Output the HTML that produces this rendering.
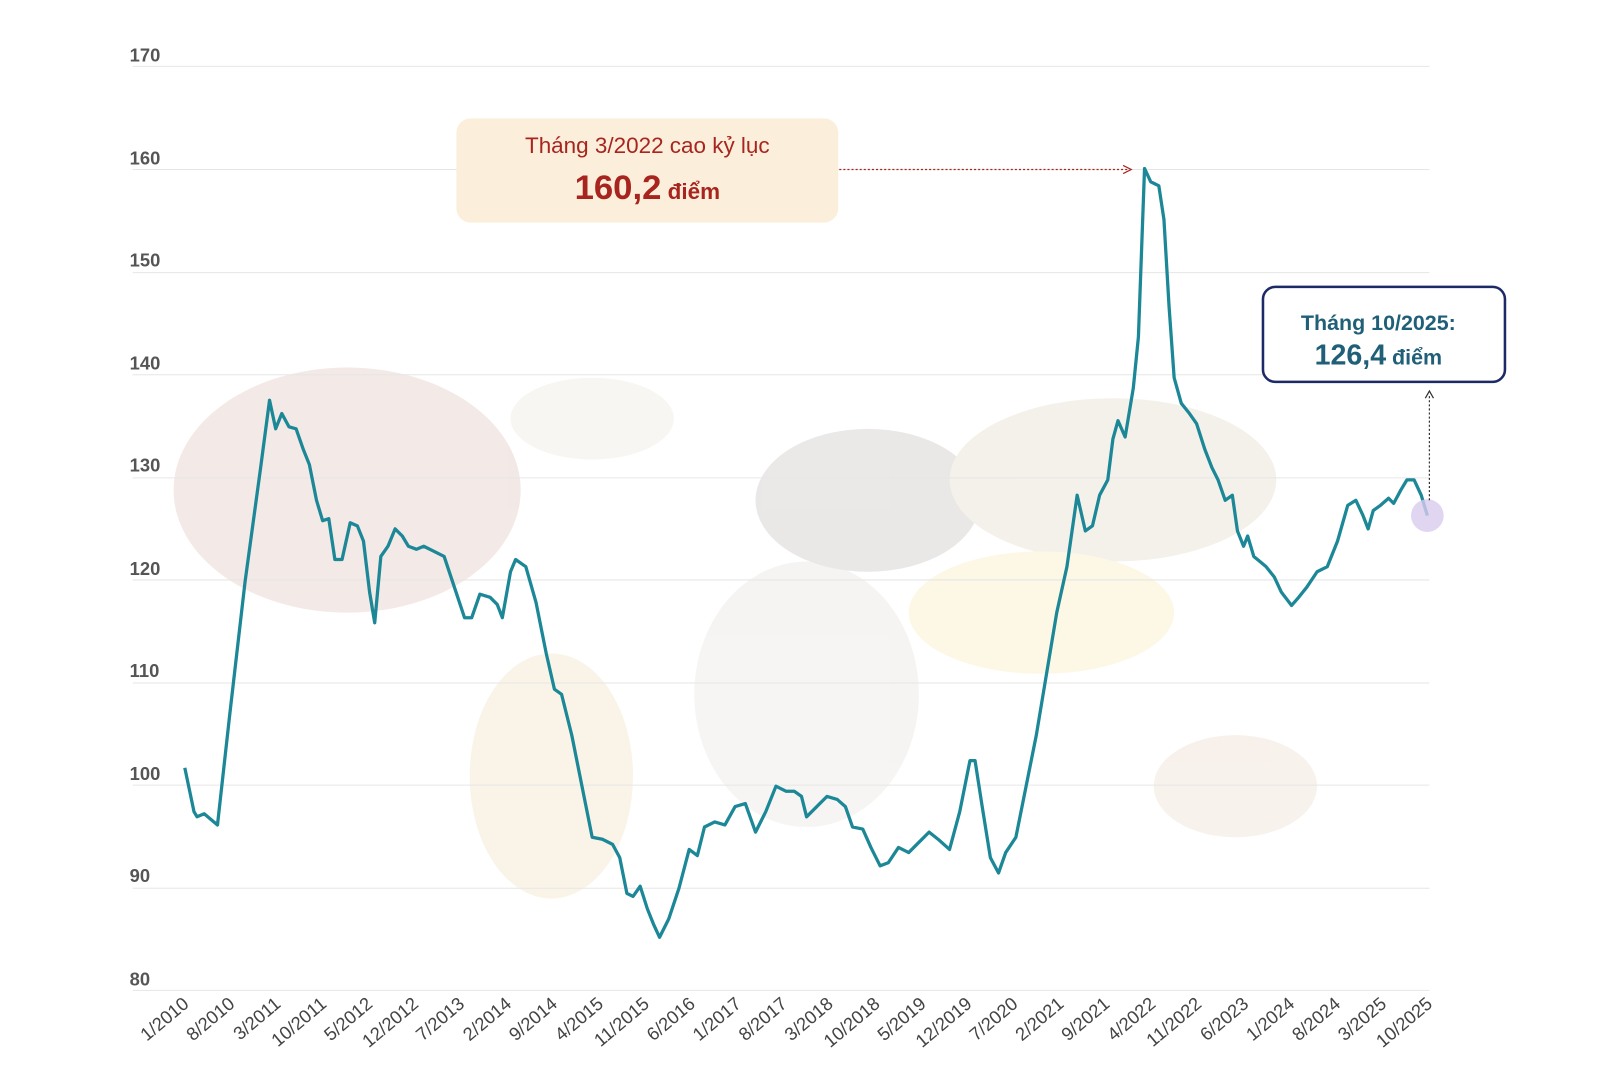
<!DOCTYPE html>
<html><head><meta charset="utf-8"><style>
html,body{margin:0;padding:0;background:#fff;}
svg{display:block;font-family:"Liberation Sans",sans-serif;}
</style></head><body>
<svg width="1600" height="1067" viewBox="0 0 1600 1067" xmlns="http://www.w3.org/2000/svg">
<g transform="scale(1.021)">
<g opacity="0.12">
<ellipse cx="340" cy="480" rx="170" ry="120" fill="#9c4a30"/>
<ellipse cx="540" cy="760" rx="80" ry="120" fill="#d9a441"/>
<ellipse cx="580" cy="410" rx="80" ry="40" fill="#c9b89a"/>
<ellipse cx="790" cy="680" rx="110" ry="130" fill="#b8aea0"/>
<ellipse cx="850" cy="490" rx="110" ry="70" fill="#5a4a40"/>
<ellipse cx="1090" cy="470" rx="160" ry="80" fill="#a88a5a"/>
<ellipse cx="1020" cy="600" rx="130" ry="60" fill="#f0c030"/>
<ellipse cx="1210" cy="770" rx="80" ry="50" fill="#c89060"/>
</g>
<g stroke="#e6e6e6" stroke-width="1">
<line x1="130" x2="1400" y1="65" y2="65"/><line x1="130" x2="1400" y1="166" y2="166"/>
<line x1="130" x2="1400" y1="267" y2="267"/><line x1="130" x2="1400" y1="367" y2="367"/>
<line x1="130" x2="1400" y1="468" y2="468"/><line x1="130" x2="1400" y1="568" y2="568"/>
<line x1="130" x2="1400" y1="669" y2="669"/><line x1="130" x2="1400" y1="769" y2="769"/>
<line x1="130" x2="1400" y1="870" y2="870"/><line x1="130" x2="1400" y1="970" y2="970"/>
</g>
<g fill="#555" font-size="18" font-weight="bold">
<text x="127" y="60">170</text><text x="127" y="161">160</text><text x="127" y="261">150</text>
<text x="127" y="362">140</text><text x="127" y="462">130</text><text x="127" y="563">120</text>
<text x="127" y="663">110</text><text x="127" y="764">100</text><text x="127" y="864">90</text>
<text x="127" y="965">80</text>
</g>
<g fill="#444" font-size="18" text-anchor="end">
<g transform="translate(186,985) rotate(-40)"><text>1/2010</text></g>
<g transform="translate(231,985) rotate(-40)"><text>8/2010</text></g>
<g transform="translate(276,985) rotate(-40)"><text>3/2011</text></g>
<g transform="translate(321,985) rotate(-40)"><text>10/2011</text></g>
<g transform="translate(366,985) rotate(-40)"><text>5/2012</text></g>
<g transform="translate(411,985) rotate(-40)"><text>12/2012</text></g>
<g transform="translate(456,985) rotate(-40)"><text>7/2013</text></g>
<g transform="translate(502,985) rotate(-40)"><text>2/2014</text></g>
<g transform="translate(547,985) rotate(-40)"><text>9/2014</text></g>
<g transform="translate(592,985) rotate(-40)"><text>4/2015</text></g>
<g transform="translate(637,985) rotate(-40)"><text>11/2015</text></g>
<g transform="translate(682,985) rotate(-40)"><text>6/2016</text></g>
<g transform="translate(727,985) rotate(-40)"><text>1/2017</text></g>
<g transform="translate(772,985) rotate(-40)"><text>8/2017</text></g>
<g transform="translate(817,985) rotate(-40)"><text>3/2018</text></g>
<g transform="translate(863,985) rotate(-40)"><text>10/2018</text></g>
<g transform="translate(908,985) rotate(-40)"><text>5/2019</text></g>
<g transform="translate(953,985) rotate(-40)"><text>12/2019</text></g>
<g transform="translate(998,985) rotate(-40)"><text>7/2020</text></g>
<g transform="translate(1043,985) rotate(-40)"><text>2/2021</text></g>
<g transform="translate(1088,985) rotate(-40)"><text>9/2021</text></g>
<g transform="translate(1133,985) rotate(-40)"><text>4/2022</text></g>
<g transform="translate(1178,985) rotate(-40)"><text>11/2022</text></g>
<g transform="translate(1224,985) rotate(-40)"><text>6/2023</text></g>
<g transform="translate(1269,985) rotate(-40)"><text>1/2024</text></g>
<g transform="translate(1314,985) rotate(-40)"><text>8/2024</text></g>
<g transform="translate(1359,985) rotate(-40)"><text>3/2025</text></g>
<g transform="translate(1404,985) rotate(-40)"><text>10/2025</text></g>
</g>
<polyline fill="none" stroke="#1b8797" stroke-width="3.2" stroke-linejoin="round" points="
181,752 190,795 193,800 200,797 213,808 225,700 240,570 255,460 264,392 270,420 276,405 283,418 290,420 297,440 303,455 310,490 316,510 322,508 328,548 335,548 343,512 350,515 356,530 362,580 367,610 373,545 380,535 387,518 394,525 400,535 408,538 415,535 425,540 435,545 445,575 455,605 462,605 470,582 480,585 487,592 492,605 500,560 505,548 515,555 525,590 535,640 543,675 550,680 560,720 570,770 580,820 590,822 600,827 607,840 614,875 620,878 627,868 634,890 640,905 646,918 655,900 665,870 675,832 683,838 690,810 700,805 710,808 720,790 730,787 740,815 750,795 760,770 770,775 778,775 785,780 790,800 800,790 810,780 820,783 828,790 835,810 845,812 853,830 862,848 870,845 880,830 890,835 900,825 910,815 920,823 930,832 940,795 950,745 955,745 962,790 970,840 978,855 985,835 995,820 1005,770 1015,720 1025,660 1035,600 1045,555 1055,485 1063,520 1070,515 1077,485 1085,470 1090,430 1095,412 1102,428 1110,380 1115,330 1121,165 1127,178 1135,182 1140,215 1145,300 1150,370 1157,395 1165,405 1172,415 1180,440 1187,458 1193,470 1200,490 1207,485 1212,520 1218,535 1222,525 1228,545 1234,550 1240,555 1248,565 1255,580 1265,593 1272,585 1280,575 1290,560 1300,555 1310,530 1320,495 1328,490 1335,505 1340,518 1345,500 1352,495 1360,488 1365,493 1372,480 1378,470 1385,470 1392,485 1398,505"/>
<rect x="447" y="116" width="374" height="102" rx="14" fill="#fbefdb"/>
<text x="634" y="150" text-anchor="middle" font-size="22" fill="#a8251f">Tháng 3/2022 cao kỷ lục</text>
<text x="634" y="195" text-anchor="middle" fill="#a8251f"><tspan font-size="34" font-weight="bold">160,2</tspan><tspan font-size="22" font-weight="bold"> điểm</tspan></text>
<line x1="822" y1="166" x2="1104" y2="166" stroke="#a8251f" stroke-width="1.2" stroke-dasharray="2,2"/>
<path d="M1100,162 L1108,166 L1100,170" fill="none" stroke="#a8251f" stroke-width="1.2"/>
<circle cx="1398" cy="505" r="16" fill="#d9ccef" opacity="0.8"/>
<line x1="1400" y1="490" x2="1400" y2="386" stroke="#333" stroke-width="1.2" stroke-dasharray="2,2"/>
<path d="M1396,390 L1400,383 L1404,390" fill="none" stroke="#333" stroke-width="1.2"/>
<rect x="1237" y="281" width="237" height="93" rx="12" fill="#fff" stroke="#1e2a66" stroke-width="2.5"/>
<text x="1350" y="323" text-anchor="middle" font-size="21" font-weight="bold" fill="#1f5f78">Tháng 10/2025:</text>
<text x="1350" y="357" text-anchor="middle" fill="#1f5f78"><tspan font-size="28" font-weight="bold">126,4</tspan><tspan font-size="21" font-weight="bold"> điểm</tspan></text>
</g>
</svg>
</body></html>
